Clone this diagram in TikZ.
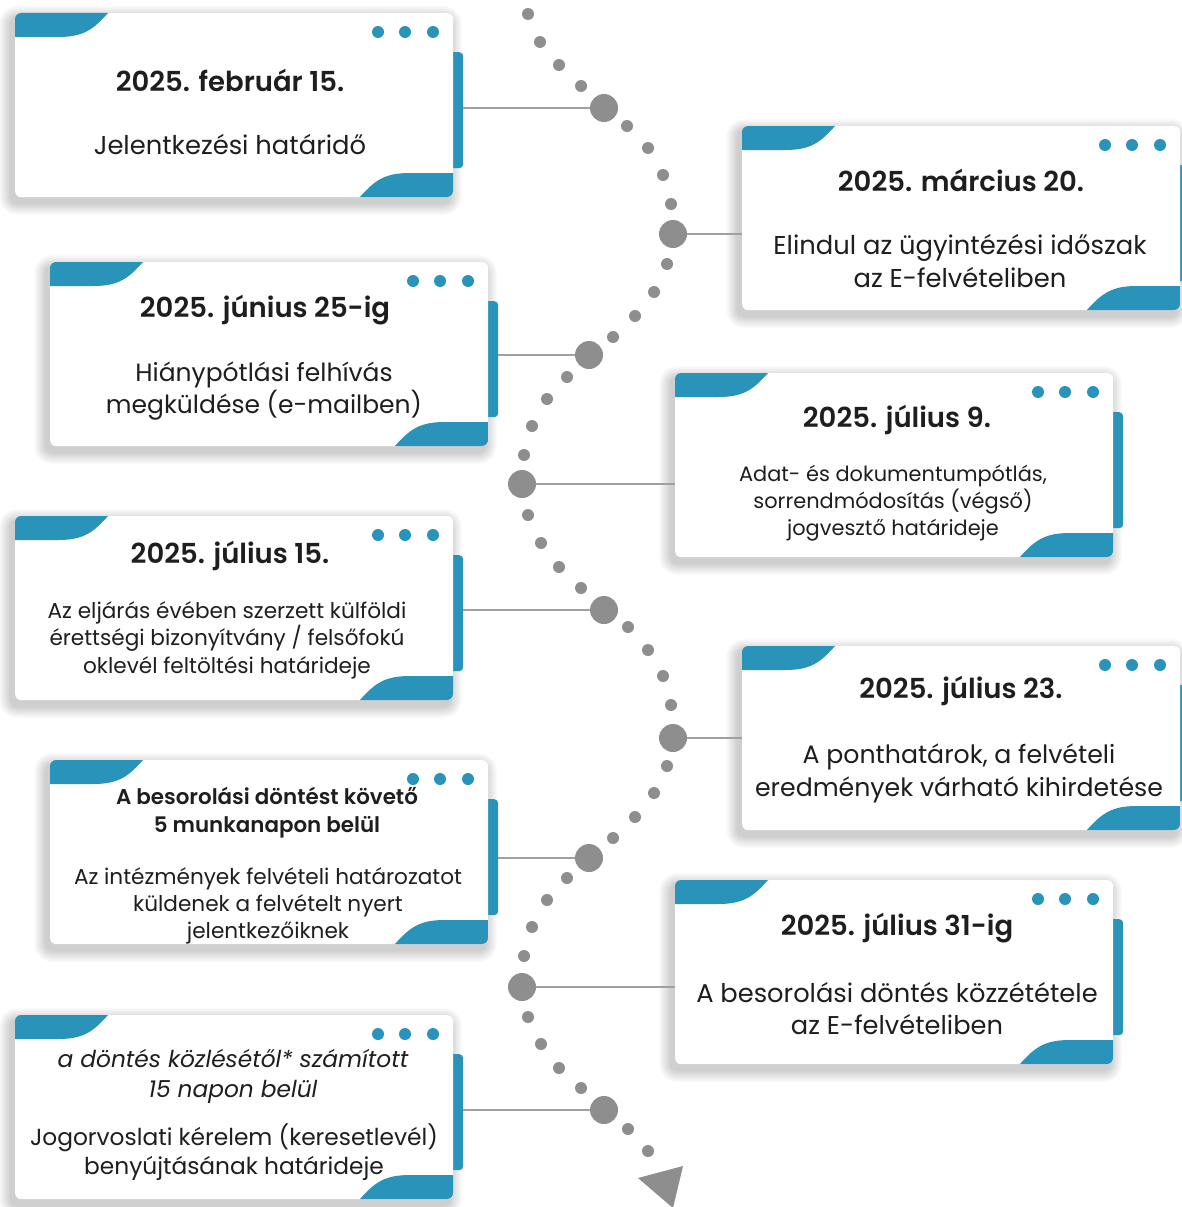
\documentclass[tikz,border=0pt]{standalone}
\usepackage{fontspec}
\setmainfont{Poppins}[BoldFont={Poppins SemiBold},BoldItalicFont={Poppins SemiBold Italic}]
\definecolor{tealc}{HTML}{2A93B9}
\definecolor{dotc}{HTML}{8E8E8E}
\definecolor{linec}{HTML}{A0A0A0}
\definecolor{txtc}{HTML}{1E1E1E}
\tikzset{
  bigdot/.style={circle,fill=dotc,minimum size=28pt,inner sep=0pt},
  cardbody/.style={fill=white,rounded corners=6pt,minimum width=438pt,minimum height=184pt,anchor=north west,inner sep=0pt},
  sidebar/.style={fill=tealc,rounded corners=4pt,minimum width=14pt,minimum height=116pt,anchor=north west,inner sep=0pt},
  conn/.style={draw=linec,line width=1.6pt},
  txt/.style={align=center,text=txtc,inner sep=0pt},
  ttl/.style={txt,font=\fontsize{27.5}{30}\selectfont\bfseries},
}
\newcommand\mkcard[3]{%
  \begin{scope}[shift={(#2,#3)}]
    \foreach \i in {1,...,12}{%
      \pgfmathsetmacro\rr{6+\i}%
      \fill[black,opacity=0.016,rounded corners=\rr pt] (-\i-4,-\i+5) rectangle (438+\i-3,184+\i+6);}
    \node[sidebar] (#1b) at (434,39) {};
    \node[cardbody] (#1) at (0,0) {};
    \begin{scope}
      \clip[rounded corners=6pt] (0,0) rectangle (438,184);
      \fill[tealc] (0,24) -- (0,0) -- (93,0) .. controls (78,17) and (68,24) .. (43,24) -- cycle;
      \fill[tealc] (345,184) .. controls (360,167) and (370,160) .. (395,160) -- (438,160) -- (438,184) -- cycle;
    \end{scope}
    \foreach \xx in {363,390,418} \fill[tealc] (\xx,19) circle (6pt);
  \end{scope}}
\begin{document}
\begin{tikzpicture}[x=1pt,y=-1pt]
\useasboundingbox (0,0) rectangle (1182,1207);
\fill[white] (0,0) rectangle (1182,1207);

% small dots of the winding path
\foreach \px/\py in {528/14,540/42,559/65,581/86,627/126,648/148,663/175,671/204,
  667/264,654/292,635/316,613/337,567/377,547/399,532/426,524/455,
  528/515,541/543,559/567,581/588,628/627,648/650,663/676,671/705,
  667/766,654/793,635/817,613/838,567/878,547/900,532/927,524/956,
  528/1017,541/1044,559/1068,581/1088,628/1129,648/1151}
  \fill[dotc] (\px,\py) circle (6pt);
\fill[dotc] (638,1178) -- (683,1166) -- (673,1208) -- cycle;

% big dots
\node[bigdot] (d1) at (604,108) {};
\node[bigdot] (d2) at (673,234) {};
\node[bigdot] (d3) at (589,355) {};
\node[bigdot] (d4) at (522,484) {};
\node[bigdot] (d5) at (604,610) {};
\node[bigdot] (d6) at (673,738) {};
\node[bigdot] (d7) at (589,858) {};
\node[bigdot] (d8) at (522,987) {};
\node[bigdot] (d9) at (604,1110) {};

% cards
\mkcard{c1}{15}{13}
\mkcard{c2}{742}{126}
\mkcard{c3}{50}{262}
\mkcard{c4}{675}{373}
\mkcard{c5}{15}{516}
\mkcard{c6}{742}{646}
\mkcard{c7}{50}{760}
\mkcard{c8}{675}{880}
\mkcard{c9}{15}{1015}

% connectors
\draw[conn] (c1b.east |- d1.center) -- (d1);
\draw[conn] (d2) -- (c2.west |- d2.center);
\draw[conn] (c3b.east |- d3.center) -- (d3);
\draw[conn] (d4) -- (c4.west |- d4.center);
\draw[conn] (c5b.east |- d5.center) -- (d5);
\draw[conn] (d6) -- (c6.west |- d6.center);
\draw[conn] (c7b.east |- d7.center) -- (d7);
\draw[conn] (d8) -- (c8.west |- d8.center);
\draw[conn] (c9b.east |- d9.center) -- (d9);

% texts
\node[ttl] (t1) at (230,80) {2025. február 15.};
\node[txt,font=\fontsize{25.8}{32}\selectfont] (b1) at (230,145) {Jelentkezési határidő};

\node[ttl] (t2) at (961,180) {2025. március 20.};
\node[txt,font=\fontsize{25.8}{33}\selectfont] (b2) at (960,261) {Elindul az ügyintézési időszak\\az E-felvételiben};

\node[ttl] (t3) at (265,310) {2025. június 25-ig};
\node[txt,font=\fontsize{25}{32}\selectfont] (b3) at (264,391) {Hiánypótlási felhívás\\megküldése (e-mailben)};

\node[ttl] (t4) at (897,420) {2025. július 9.};
\node[txt,font=\fontsize{20.9}{27}\selectfont] (b4) at (893,503) {Adat- és dokumentumpótlás,\\sorrendmódosítás (végső)\\jogvesztő határideje};

\node[ttl] (t5) at (230,556) {2025. július 15.};
\node[txt,font=\fontsize{21.6}{27.5}\selectfont] (b5) at (227,640) {Az eljárás évében szerzett külföldi\\érettségi bizonyítvány / felsőfokú\\oklevél feltöltési határideje};

\node[ttl] (t6) at (961,691) {2025. július 23.};
\node[txt,font=\fontsize{25.2}{33}\selectfont] (b6) at (959,773) {A ponthatárok, a felvételi\\eredmények várható kihirdetése};

\node[txt,font=\fontsize{21.4}{28}\selectfont\bfseries] (t7) at (267,813) {A besorolási döntést követő\\5 munkanapon belül};
\node[txt,font=\fontsize{21.6}{27}\selectfont] (b7) at (268,906) {Az intézmények felvételi határozatot\\küldenek a felvételt nyert\\jelentkezőiknek};

\node[ttl] (t8) at (897,928) {2025. július 31-ig};
\node[txt,font=\fontsize{25.7}{32}\selectfont] (b8) at (897,1009) {A besorolási döntés közzététele\\az E-felvételiben};

\node[txt,font=\fontsize{23.3}{30}\selectfont\itshape] (t9) at (233,1076) {a döntés közlésétől* számított\\15 napon belül};
\node[txt,font=\fontsize{23.3}{29}\selectfont] (b9) at (234,1152) {Jogorvoslati kérelem (keresetlevél)\\benyújtásának határideje};
\end{tikzpicture}
\end{document}
